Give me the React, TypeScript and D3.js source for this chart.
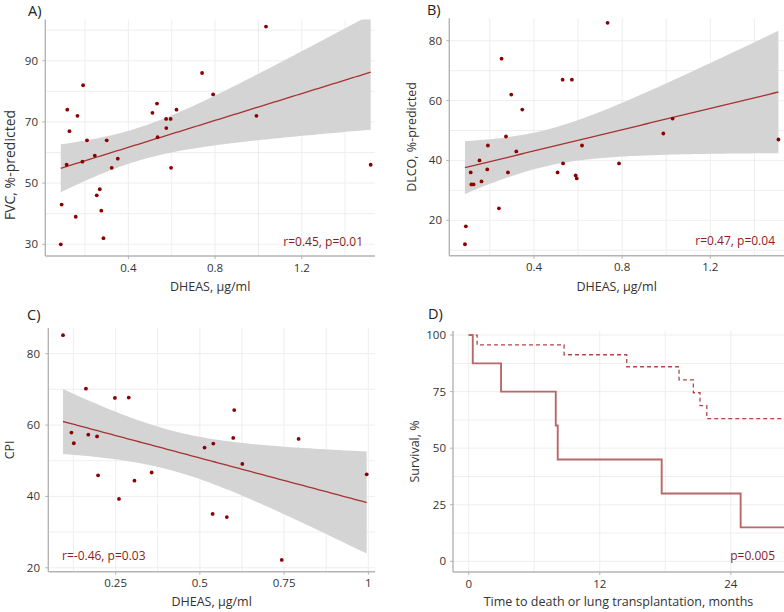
import React from "react";
import * as d3 from "d3";

// ---------- Data ----------
// Panel A: DHEAS vs FVC
const A_dheas = [1.035, 0.74, 0.791, 0.191, 0.118, 0.165, 0.128, 0.209, 0.3, 0.115, 0.188, 0.245, 0.323, 0.351, 0.254, 0.268, 0.092, 0.157, 0.275, 0.285, 0.088, 0.511, 0.532, 0.574, 0.595, 0.622, 0.575, 0.535, 0.597, 0.991, 1.518];
const A_fvc = [101.2, 86, 79, 82, 74, 72, 67, 64, 64, 56, 57, 59, 55, 58, 46, 48, 43, 39, 41, 32, 30, 73, 76, 71, 71, 74, 68, 65, 55, 72, 56];
// Panel B: DHEAS vs DLCO
const B_dheas = [0.734, 0.253, 0.53, 0.572, 0.297, 0.347, 0.273, 0.191, 0.32, 0.153, 0.113, 0.188, 0.282, 0.162, 0.116, 0.126, 0.241, 0.091, 0.087, 0.507, 0.532, 0.589, 0.594, 0.618, 0.786, 0.987, 1.029, 1.509];
const B_dlco = [86, 74, 67, 67, 62, 57, 48, 45, 43, 40, 36, 37, 36, 33, 32, 32, 24, 18, 12, 36, 39, 35, 34, 45, 39, 49, 54, 47];
// Panel C: DHEAS vs CPI
const C_dheas = [0.094, 0.162, 0.248, 0.289, 0.119, 0.126, 0.169, 0.195, 0.198, 0.26, 0.306, 0.357, 0.514, 0.54, 0.602, 0.599, 0.626, 0.538, 0.58, 0.743, 0.793, 0.995];
const C_cpi = [85.2, 70.2, 67.6, 67.7, 57.9, 54.9, 57.3, 56.8, 45.9, 39.3, 44.4, 46.7, 53.7, 54.8, 64.2, 56.4, 49.1, 35.1, 34.2, 22.2, 56.1, 46.2];
// Panel D: Kaplan-Meier
const D_low_time = [0, 0.37, 2.96, 7.97, 8.15, 17.67, 24.9];
const D_low_surv = [100, 87.5, 75, 60, 45, 30, 15];
const D_high_time = [0, 0.77, 8.73, 14.47, 19.26, 20.57, 21.18, 21.8];
const D_high_surv = [100, 95.7, 91.3, 86.0, 80.2, 74.5, 68.8, 63.1];

const A_yTicks = [30, 50, 70, 90];
const A_yMinor = [40, 60, 80, 100];
const AB_xTicks = [0.4, 0.8, 1.2];
const AB_xMinor = [0.2, 0.6, 1.0, 1.4];
const B_yTicks = [20, 40, 60, 80];
const B_yMinor = [10, 30, 50, 70];
const C_xTicks = [0.25, 0.5, 0.75, 1];
const C_xMinor = [0.125, 0.375, 0.625, 0.875];
const C_yTicks = [20, 40, 60, 80];
const C_yMinor = [30, 50, 70];
const D_xTicks = [0, 12, 24];
const D_xMinor = [6, 18];
const D_yTicks = [0, 25, 50, 75, 100];
const D_yMinor = [12.5, 37.5, 62.5, 87.5];

const FONT = "'Open Sans', 'Segoe UI', sans-serif";
const GRID = "#ececec";
const AXIS = "#b4b4b4";
const TXT = "#333333";
const RED = "#8b0000";
const LINE = "#a83232";
const ANNOT = "#8e1c1c";

type Rect = { left: number; right: number; top: number; bottom: number };

function tQuant(df: number) {
  const z = 1.959964;
  return z + (z ** 3 + z) / (4 * df) + (5 * z ** 5 + 16 * z ** 3 + 3 * z) / (96 * df * df);
}

function Frame(props: {
  id: string; rect: Rect; x: d3.ScaleLinear<number, number>; y: d3.ScaleLinear<number, number>;
  xTicks: number[]; xMinor: number[]; yTicks: number[]; yMinor: number[];
  xTitle: string; yTitle: string; yTitleSize: number; yTitleX: number; yTitleY?: number;
  label: string; labelX: number; labelY: number; xLabelDy: number; xTitleY: number; yLabelX: number;
  children?: React.ReactNode;
}) {
  const { rect, x, y } = props;
  const cx = (rect.left + Math.min(rect.right, 784)) / 2;
  const cy = props.yTitleY ?? (rect.top + rect.bottom) / 2;
  return (
    <g>
      <defs>
        <clipPath id={props.id}>
          <rect x={rect.left} y={rect.top} width={rect.right - rect.left} height={rect.bottom - rect.top} />
        </clipPath>
      </defs>
      {[...props.xMinor, ...props.xTicks].map((v, i) => (
        <line key={"gx" + i} x1={x(v)} x2={x(v)} y1={rect.top} y2={rect.bottom} stroke={GRID} strokeWidth={0.9} />
      ))}
      {[...props.yMinor, ...props.yTicks].map((v, i) => (
        <line key={"gy" + i} x1={rect.left} x2={rect.right} y1={y(v)} y2={y(v)} stroke={GRID} strokeWidth={0.9} />
      ))}
      {props.children}
      <line x1={rect.left} x2={rect.left} y1={rect.top} y2={rect.bottom} stroke={AXIS} strokeWidth={1.4} />
      <line x1={rect.left} x2={rect.right} y1={rect.bottom} y2={rect.bottom} stroke={AXIS} strokeWidth={1.4} />
      {props.xTicks.map((v, i) => (
        <g key={"tx" + i}>
          <line x1={x(v)} x2={x(v)} y1={rect.bottom} y2={rect.bottom + 3} stroke={AXIS} strokeWidth={1} />
          <text x={x(v)} y={rect.bottom + props.xLabelDy} textAnchor="middle" fontSize={11.5} fill={TXT} fontFamily={FONT}>{String(v)}</text>
        </g>
      ))}
      {props.yTicks.map((v, i) => (
        <g key={"ty" + i}>
          <line x1={rect.left - 3} x2={rect.left} y1={y(v)} y2={y(v)} stroke={AXIS} strokeWidth={1} />
          <text x={props.yLabelX} y={y(v) + 4} textAnchor="end" fontSize={11.5} fill={TXT} fontFamily={FONT}>{String(v)}</text>
        </g>
      ))}
      <text x={cx} y={props.xTitleY} textAnchor="middle" fontSize={12.5} fill={TXT} fontFamily={FONT}>{props.xTitle}</text>
      <text transform={`translate(${props.yTitleX},${cy}) rotate(-90)`} textAnchor="middle" fontSize={props.yTitleSize} fill={TXT} fontFamily={FONT}>{props.yTitle}</text>
      <text x={props.labelX} y={props.labelY} fontSize={14.5} fill="#222" fontFamily={FONT}>{props.label}</text>
    </g>
  );
}

function Scatter(props: {
  id: string; xs: number[]; ys: number[]; rect: Rect; xDomain: [number, number]; yDomain: [number, number];
  xTicks: number[]; xMinor: number[]; yTicks: number[]; yMinor: number[];
  xTitle: string; yTitle: string; yTitleSize: number; yTitleX: number; yTitleY?: number;
  label: string; labelX: number; labelY: number; annot: string; annotX: number; annotY: number; annotAnchor: string;
  xLabelDy: number; xTitleY: number; yLabelX: number;
}) {
  const { xs, ys, rect } = props;
  const x = d3.scaleLinear().domain(props.xDomain).range([rect.left, rect.right]);
  const y = d3.scaleLinear().domain(props.yDomain).range([rect.bottom, rect.top]);
  const n = xs.length;
  const xbar = d3.mean(xs)!;
  const ybar = d3.mean(ys)!;
  let sxx = 0, sxy = 0;
  for (let i = 0; i < n; i++) { sxx += (xs[i] - xbar) ** 2; sxy += (xs[i] - xbar) * (ys[i] - ybar); }
  const b = sxy / sxx;
  const a = ybar - b * xbar;
  let sse = 0;
  for (let i = 0; i < n; i++) sse += (ys[i] - a - b * xs[i]) ** 2;
  const s = Math.sqrt(sse / (n - 2));
  const t = tQuant(n - 2);
  const [x0, x1] = d3.extent(xs) as [number, number];
  const grid = d3.range(0, 101).map((i) => x0 + ((x1 - x0) * i) / 100);
  const band = grid.map((xv) => {
    const yh = a + b * xv;
    const h = t * s * Math.sqrt(1 / n + (xv - xbar) ** 2 / sxx);
    return { xv, lo: yh - h, hi: yh + h, yh };
  });
  const area = d3.area<any>().x((d) => x(d.xv)).y0((d) => y(d.lo)).y1((d) => y(d.hi));
  const line = d3.line<any>().x((d) => x(d.xv)).y((d) => y(d.yh));
  return (
    <Frame {...props} x={x} y={y}>
      <g clipPath={`url(#${props.id})`}>
        <path d={area(band)!} fill="#d4d4d4" />
        <path d={line(band)!} fill="none" stroke={LINE} strokeWidth={1.3} />
      </g>
      {xs.map((xv, i) => (
        <circle key={i} cx={x(xv)} cy={y(ys[i])} r={1.9} fill={RED} />
      ))}
      <text x={props.annotX} y={props.annotY} textAnchor={props.annotAnchor as any} fontSize={12} fill={ANNOT} fontFamily={FONT}>{props.annot}</text>
    </Frame>
  );
}

function KM() {
  const rect = { left: 453, right: 784, top: 331, bottom: 572 };
  const xDomain: [number, number] = [-1.44, 28.87];
  const x = d3.scaleLinear().domain(xDomain).range([rect.left, rect.right]);
  const y = d3.scaleLinear().domain([-4.73, 101.8]).range([rect.bottom, rect.top]);
  const mk = (ts: number[], ss: number[]) => {
    const pts = ts.map((tv, i) => [tv, ss[i]] as [number, number]);
    pts.push([xDomain[1], ss[ss.length - 1]]);
    return d3.line().x((d) => x(d[0])).y((d) => y(d[1])).curve(d3.curveStepAfter)(pts)!;
  };
  return (
    <Frame id="clipD" rect={rect} x={x} y={y} xTicks={D_xTicks} xMinor={D_xMinor} yTicks={D_yTicks} yMinor={D_yMinor}
      xTitle="Time to death or lung transplantation, months" yTitle="Survival, %" yTitleSize={12.5} yTitleX={419}
      label="D)" labelX={428} labelY={319} xLabelDy={16} xTitleY={606} yLabelX={446}>
      <g clipPath="url(#clipD)">
        <path d={mk(D_high_time, D_high_surv)} fill="none" stroke="#b04848" strokeWidth={1.3} strokeDasharray="4,3" />
        <path d={mk(D_low_time, D_low_surv)} fill="none" stroke="#b86868" strokeWidth={1.9} />
      </g>
      <text x={775} y={560} textAnchor="end" fontSize={12} fill={ANNOT} fontFamily={FONT}>p=0.005</text>
    </Frame>
  );
}

export default function App() {
  return (
    <svg width={784} height={612} style={{ position: "absolute", left: 0, top: 0, background: "#fff" }}>
      <rect x={0} y={0} width={784} height={612} fill="#fff" />
      <Scatter id="clipA" xs={A_dheas} ys={A_fvc} rect={{ left: 45.3, right: 375, top: 19.5, bottom: 256 }}
        xDomain={[0.0166, 1.538]} yDomain={[26.17, 103.5]} xTicks={AB_xTicks} xMinor={AB_xMinor} yTicks={A_yTicks} yMinor={A_yMinor}
        xTitle="DHEAS, µg/ml" yTitle="FVC, %-predicted" yTitleSize={14} yTitleX={14.5} yTitleY={165}
        label="A)" labelX={28} labelY={16} annot="r=0.45, p=0.01" annotX={363} annotY={246} annotAnchor="end"
        xLabelDy={15.5} xTitleY={291} yLabelX={38} />
      <Scatter id="clipB" xs={B_dheas} ys={B_dlco} rect={{ left: 449.3, right: 784.8, top: 18.3, bottom: 255.7 }}
        xDomain={[0.0159, 1.538]} yDomain={[8.17, 87.5]} xTicks={AB_xTicks} xMinor={AB_xMinor} yTicks={B_yTicks} yMinor={B_yMinor}
        xTitle="DHEAS, µg/ml" yTitle="DLCO, %-predicted" yTitleSize={12.5} yTitleX={416}
        label="B)" labelX={427} labelY={15} annot="r=0.47, p=0.04" annotX={775} annotY={245} annotAnchor="end"
        xLabelDy={15.5} xTitleY={291} yLabelX={442} />
      <Scatter id="clipC" xs={C_dheas} ys={C_cpi} rect={{ left: 48.3, right: 375, top: 328, bottom: 571.7 }}
        xDomain={[0.0503, 1.0197]} yDomain={[18.9, 87.2]} xTicks={C_xTicks} xMinor={C_xMinor} yTicks={C_yTicks} yMinor={C_yMinor}
        xTitle="DHEAS, µg/ml" yTitle="CPI" yTitleSize={12.5} yTitleX={13.5}
        label="C)" labelX={27} labelY={320} annot="r=-0.46, p=0.03" annotX={62} annotY={560} annotAnchor="start"
        xLabelDy={15} xTitleY={606} yLabelX={40} />
      <KM />
    </svg>
  );
}
